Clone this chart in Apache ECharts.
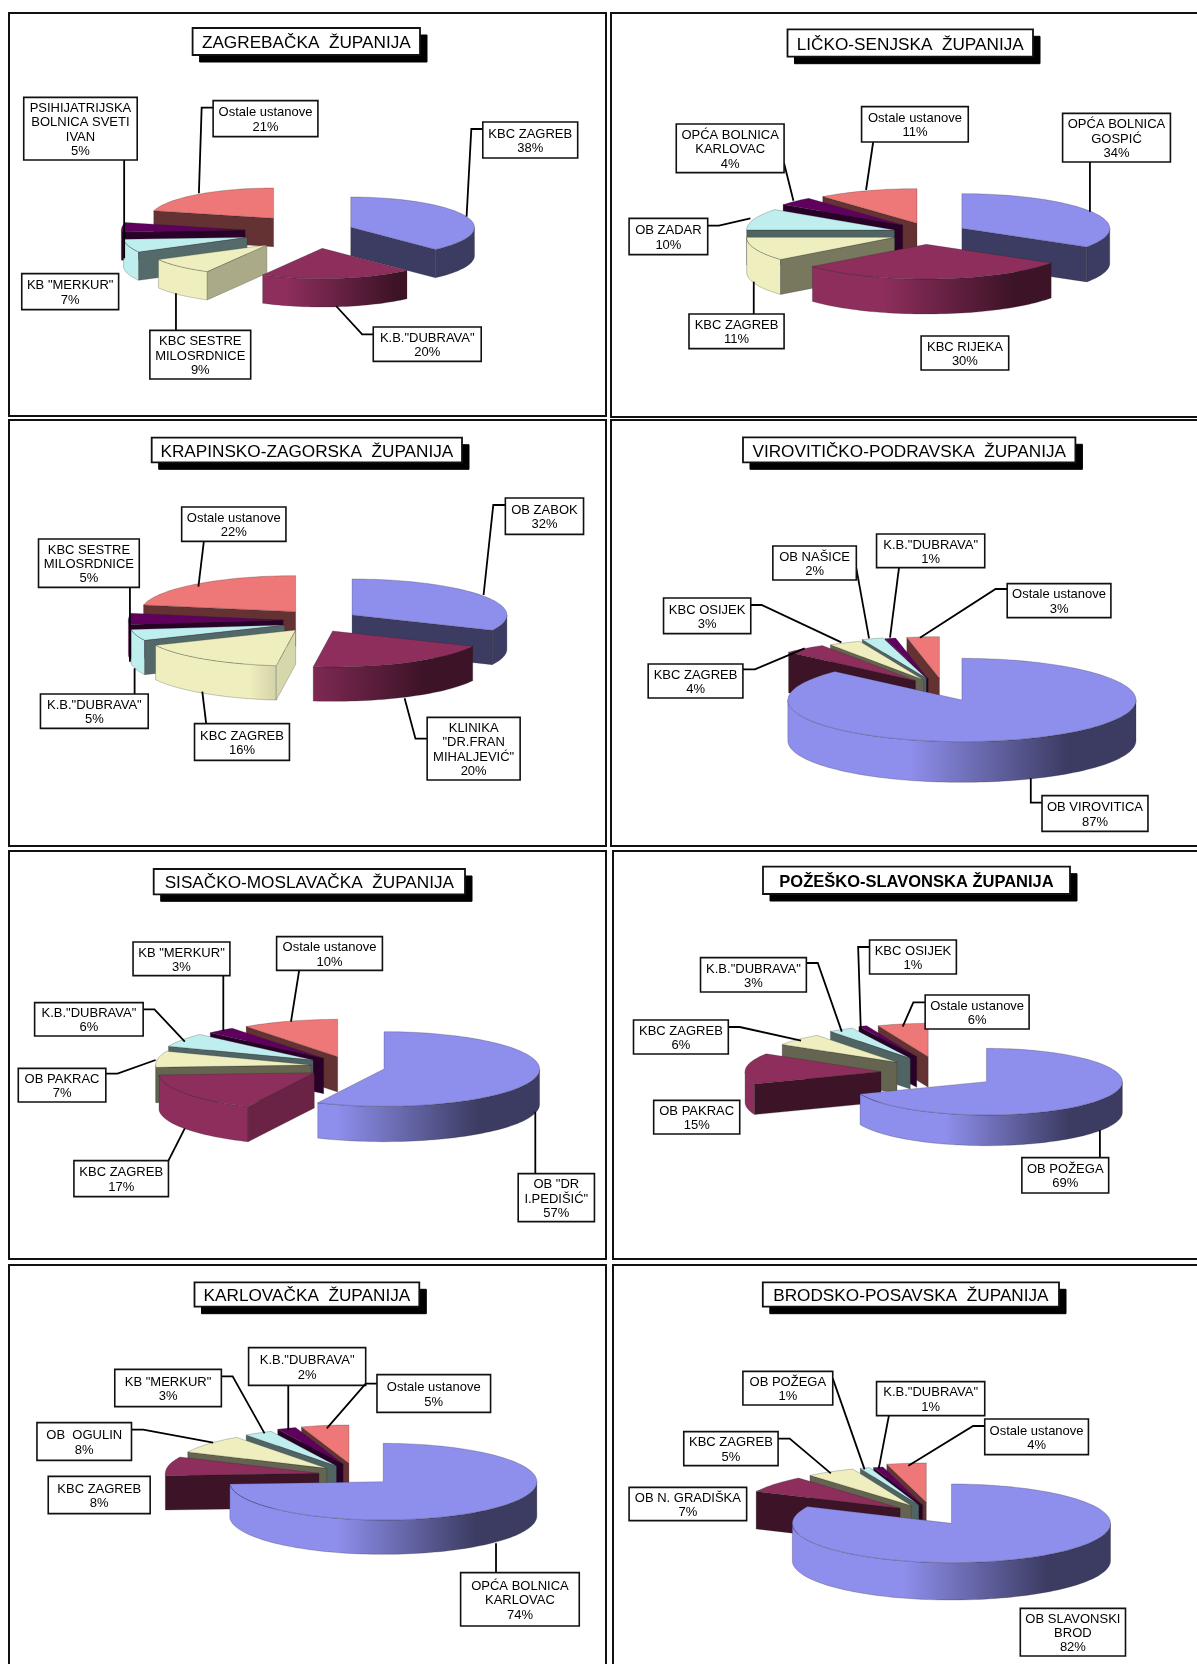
<!DOCTYPE html>
<html>
<head>
<meta charset="utf-8">
<style>html,body{margin:0;padding:0;background:#fff}#c{width:1197px;height:1664px}</style>
<script src="https://cdn.jsdelivr.net/npm/echarts@6/dist/echarts.min.js"></script>
</head>
<body>
<div id="c"></div>
<script>
// ---------- values ----------
const sliceColors = ['#8E8EEC', '#8E2E5C', '#EEEEBE', '#BEEEEE', '#5F005F', '#EE7777'];
const OTHER = 'Ostale ustanove';

const titles = ['ZAGREBAČKA  ŽUPANIJA', 'LIČKO-SENJSKA  ŽUPANIJA', 'KRAPINSKO-ZAGORSKA  ŽUPANIJA',
  'VIROVITIČKO-PODRAVSKA  ŽUPANIJA', 'SISAČKO-MOSLAVAČKA  ŽUPANIJA', 'POŽEŠKO-SLAVONSKA ŽUPANIJA',
  'KARLOVAČKA  ŽUPANIJA', 'BRODSKO-POSAVSKA  ŽUPANIJA'];

const zagrebNames = ['KBC ZAGREB', 'K.B."DUBRAVA"', 'KBC SESTRE\nMILOSRDNICE', 'KB "MERKUR"', 'PSIHIJATRIJSKA\nBOLNICA SVETI\nIVAN', OTHER];
const zagrebValues = [38, 20, 9, 7, 5, 21];
const likaNames = ['OPĆA BOLNICA\nGOSPIĆ', 'KBC RIJEKA', 'KBC ZAGREB', 'OB ZADAR', 'OPĆA BOLNICA\nKARLOVAC', OTHER];
const likaValues = [34, 30, 11, 10, 4, 11];
const krapinaNames = ['OB ZABOK', 'KLINIKA\n"DR.FRAN\nMIHALJEVIĆ"', 'KBC ZAGREB', 'K.B."DUBRAVA"', 'KBC SESTRE\nMILOSRDNICE', OTHER];
const krapinaValues = [32, 20, 16, 5, 5, 22];
const viroviticaNames = ['OB VIROVITICA', 'KBC ZAGREB', 'KBC OSIJEK', 'OB NAŠICE', 'K.B."DUBRAVA"', OTHER];
const viroviticaValues = [87, 4, 3, 2, 1, 3];
const sisakNames = ['OB "DR\nI.PEDIŠIĆ"', 'KBC ZAGREB', 'OB PAKRAC', 'K.B."DUBRAVA"', 'KB "MERKUR"', OTHER];
const sisakValues = [57, 17, 7, 6, 3, 10];
const pozegaNames = ['OB POŽEGA', 'OB PAKRAC', 'KBC ZAGREB', 'K.B."DUBRAVA"', 'KBC OSIJEK', OTHER];
const pozegaValues = [69, 15, 6, 3, 1, 6];
const karlovacNames = ['OPĆA BOLNICA\nKARLOVAC', 'KBC ZAGREB', 'OB  OGULIN', 'KB "MERKUR"', 'K.B."DUBRAVA"', OTHER];
const karlovacValues = [74, 8, 8, 3, 2, 5];
const brodNames = ['OB SLAVONSKI\nBROD', 'OB N. GRADIŠKA', 'KBC ZAGREB', 'OB POŽEGA', 'K.B."DUBRAVA"', OTHER];
const brodValues = [82, 7, 5, 1, 1, 4];

// ---------- layout (each panel has its own hidden axes: x 0..1568, y 0..3*height) ----------
const layouts = [
 { crop:[0,0,620,430], frame:[9,13,606,416], titleBox:[192.6,28,420,55],
   rx:313, ry:91, h:85, blueFirst:true,
   apex:[[887,682],[815,745],[675,735],[625,712],[620,690],[692,655]],
   boxes:[[1221,366,1461,474],[944,981,1217,1084],[379,991,634,1137],[55,821,300,929],[60,292,347,480],[539,302,804,410]],
   leaders:[[[1221,387],[1192,387],[1180,650]],[[944,1003],[916,1003],[850,918]],[[445,991],[445,880]],[],[[314,480],[314,775]],[[539,323],[510,323],[503,580]]] },
 { crop:[610,10,587,410], frame:[611,13,1215,417], titleBox:[787.5,29.3,1033,56.7],
   rx:395, ry:104, h:105, blueFirst:true,
   apex:[[940,655],[845,703],[760,682],[760,660],[782,645],[820,640]],
   boxes:[[1209,310,1497,456],[831,978,1065,1080],[211,912,465,1016],[51,625,261,734],[177,342,465,488],[672,290,957,396]],
   leaders:[[[1282,456],[1282,605]],[],[[384,912],[384,815]],[[261,647],[291,647],[375,625]],[[465,460],[490,572]],[[703,396],[684,540]]] },
 { crop:[0,415,610,435], frame:[9,420,606,846], titleBox:[151.7,437.7,462,462.3],
   rx:398, ry:108, h:103, blueFirst:true,
   apex:[[905,600],[855,648],[760,645],[732,630],[728,615],[760,590]],
   boxes:[[1299,249,1500,358],[1098,907,1337,1095],[500,926,744,1036],[104,837,381,940],[99,372,358,517],[467,276,735,379]],
   leaders:[[[1299,270],[1268,270],[1243,540]],[[1098,971],[1068,971],[1040,850]],[[530,926],[520,830]],[[346,837],[346,760]],[[334,517],[334,740]],[[524,379],[510,515]]] },
 { crop:[610,415,587,435], frame:[611,420,1215,846], titleBox:[743,437.3,1075.4,462.3],
   rx:465, ry:125, h:122, blueFirst:false,
   apex:[[940,855],[816,797],[838,795],[845,790],[850,792],[880,790]],
   boxes:[[1154,1142,1437,1249],[102,747,355,849],[143,549,376,656],[435,393,658,495],[712,357,1001,458],[1061,506,1338,608]],
   leaders:[[[1154,1163],[1124,1163],[1124,1090]],[[355,763],[387,763],[520,700]],[[376,570],[405,570],[618,682]],[[658,460],[692,670]],[[772,458],[748,668]],[[1061,522],[1030,522],[828,668]]] },
 { crop:[0,845,610,420], frame:[9,851,606,1259], titleBox:[153.7,869,465,894.3],
   rx:400, ry:112, h:106, blueFirst:false,
   apex:[[987,672],[808,683],[800,660],[805,645],[832,640],[868,635]],
   boxes:[[1332,986,1528,1130],[190,947,433,1055],[47,670,272,771],[89,473,368,573],[342,291,591,392],[711,275,983,376]],
   leaders:[[[1376,986],[1376,800]],[[433,947],[475,850]],[[272,686],[302,686],[400,645]],[[368,493],[397,493],[475,590]],[[574,392],[574,558]],[[769,376],[748,530]]] },
 { crop:[600,800,597,480], frame:[613,851,1215,1259], titleBox:[763,866.7,1070,894],
   rx:357, ry:100, h:92, blueFirst:false,
   apex:[[1015,845],[738,815],[780,787],[815,775],[832,770],[862,770]],
   boxes:[[1108,1073,1336,1179],[141,901,367,1002],[88,660,337,762],[264,473,542,576],[708,420,936,522],[854,585,1127,687]],
   leaders:[[[1313,1073],[1313,990]],[],[[337,681],[367,681],[528,722]],[[542,489],[572,489],[635,695]],[[708,441],[678,441],[685,690]],[[854,607],[823,607],[795,680]]] },
 { crop:[0,1260,610,404], frame:[9,1265,606,1690], titleBox:[194.5,1282.3,419.3,1306.7],
   rx:395, ry:115, h:103, blueFirst:false,
   apex:[[985,665],[820,640],[840,625],[865,618],[882,612],[897,610]],
   boxes:[[1184,938,1489,1098],[124,649,386,761],[95,488,338,601],[295,328,569,440],[639,263,940,376],[969,344,1261,457]],
   leaders:[[[1275,938],[1275,850]],[],[[338,509],[368,509],[548,548]],[[569,349],[598,349],[680,520]],[[741,376],[741,510]],[[969,371],[940,371],[840,505]]] },
 { crop:[610,1260,587,404], frame:[613,1265,1215,1690], titleBox:[762.8,1282.3,1059,1306.7],
   rx:425, ry:118, h:112, blueFirst:false,
   apex:[[912,790],[775,745],[805,737],[825,735],[835,735],[845,727]],
   boxes:[[1096,1045,1377,1188],[51,682,365,782],[197,515,449,617],[355,334,595,435],[712,365,1001,467],[1001,477,1278,584]],
   leaders:[[],[],[[449,536],[480,536],[590,640]],[[595,355],[680,628]],[[745,467],[718,625]],[[1001,498],[970,498],[797,617]]] }
];
const panelNames = [zagrebNames, likaNames, krapinaNames, viroviticaNames, sisakNames, pozegaNames, karlovacNames, brodNames];
const panelValues = [zagrebValues, likaValues, krapinaValues, viroviticaValues, sisakValues, pozegaValues, karlovacValues, brodValues];

// ---------- drawing ----------
const FONT = '"Liberation Sans", Arial, sans-serif';
const RAD = Math.PI / 180;

function shade(hex, k) {
  const n = parseInt(hex.slice(1), 16);
  const c = s => Math.round(((n >> s) & 255) * k);
  return 'rgb(' + c(16) + ',' + c(8) + ',' + c(0) + ')';
}

function sliceRenderer(L) {
  return function (params, api) {
    const ax = api.value(0), ay = api.value(1), pct = api.value(2), start = api.value(3), colorIdx = api.value(4);
    const color = sliceColors[colorIdx];
    const end = start + pct * 3.6;
    const rim = (deg, dy) => api.coord([ax + Math.sin(deg * RAD) * L.rx, ay - Math.cos(deg * RAD) * L.ry + (dy || 0)]);
    const A = api.coord([ax, ay]), B = api.coord([ax, ay + L.h]);
    const line = { stroke: 'rgba(30,30,30,0.4)', lineWidth: 0.6 };
    const children = [];

    // curved outer wall (front half of the ellipse only)
    const a0 = Math.max(start, 90), a1 = Math.min(end, 270);
    if (a1 > a0) {
      const pts = [];
      for (let d = a0; d < a1; d += 2) pts.push(rim(d));
      pts.push(rim(a1));
      for (let d = a1; d > a0; d -= 2) pts.push(rim(d, L.h));
      pts.push(rim(a0, L.h));
      const xl = api.coord([ax - L.rx, ay])[0], xr = api.coord([ax + L.rx, ay])[0];
      children.push({
        type: 'polygon', shape: { points: pts },
        style: Object.assign({
          fill: new echarts.graphic.LinearGradient(xl, 0, xr, 0, [
            { offset: 0, color: color }, { offset: 0.35, color: color },
            { offset: 0.8, color: shade(color, 0.42) }, { offset: 1, color: shade(color, 0.42) }
          ], true)
        }, line)
      });
    }
    // flat cut walls facing the viewer
    const wall = (deg, nx) => {
      const k = 0.42 + 0.5 * Math.pow(Math.max(0, nx), 4);
      children.push({
        type: 'polygon',
        shape: { points: [A, rim(deg), rim(deg, L.h), B] },
        style: Object.assign({ fill: shade(color, k) }, line)
      });
    };
    if (Math.sin(start * RAD) < -1e-6) wall(start, -Math.cos(start * RAD));
    if (Math.sin(end * RAD) > 1e-6) wall(end, Math.cos(end * RAD));
    // top face
    const top = [A];
    for (let d = start; d < end; d += 2) top.push(rim(d));
    top.push(rim(end));
    children.push({ type: 'polygon', shape: { points: top }, style: Object.assign({ fill: color }, line) });
    return { type: 'group', children: children };
  };
}

function labelRenderer(L, names) {
  return function (params, api) {
    const i = params.dataIndex;
    const b = L.boxes[i];
    const p0 = api.coord([b[0], b[1]]), p1 = api.coord([b[2], b[3]]);
    const children = [];
    if (L.leaders[i].length) {
      children.push({
        type: 'polyline',
        shape: { points: L.leaders[i].map(p => api.coord(p)) },
        style: { stroke: '#000', lineWidth: 1.8, fill: 'none' }
      });
    }
    children.push({
      type: 'rect',
      shape: { x: p0[0], y: p0[1], width: p1[0] - p0[0], height: p1[1] - p0[1] },
      style: { fill: '#fff', stroke: '#111', lineWidth: 1.6 }
    });
    children.push({
      type: 'text',
      style: {
        text: names[i] + '\n' + api.value(0) + '%',
        x: (p0[0] + p1[0]) / 2, y: (p0[1] + p1[1]) / 2 + 1.3,
        align: 'center', verticalAlign: 'middle',
        fill: '#000', font: '13px ' + FONT, lineHeight: 14.3
      }
    });
    return { type: 'group', children: children };
  };
}

const option = {
  backgroundColor: '#fff', animation: false, tooltip: { show: false },
  title: [], grid: [], xAxis: [], yAxis: [], series: [], graphic: []
};

layouts.forEach((L, p) => {
  const values = panelValues[p], names = panelNames[p];
  const c = L.crop, f = L.frame, t = L.titleBox;

  option.graphic.push({
    type: 'rect', z: 0, silent: true,
    shape: { x: f[0], y: f[1], width: f[2] - f[0], height: f[3] - f[1] },
    style: { fill: 'none', stroke: '#111', lineWidth: 2 }
  });

  const bold = titles[p].indexOf('POŽEŠKO') === 0;
  option.title.push({
    text: titles[p], textAlign: 'center', textVerticalAlign: 'middle',
    left: (t[0] + t[2]) / 2, top: (t[1] + t[3]) / 2 + 2,
    padding: 0, z: 20,
    textStyle: { color: '#000', fontFamily: FONT, fontSize: bold ? 16.5 : 17.2, fontWeight: bold ? 'bold' : 'normal' }
  });

  option.grid.push({ left: c[0], top: c[1], width: c[2], height: c[3], show: false });
  option.xAxis.push({ type: 'value', gridIndex: p, min: 0, max: 1568, show: false });
  option.yAxis.push({ type: 'value', gridIndex: p, min: 0, max: c[3] * 3, inverse: true, show: false });

  let cum = 0;
  const rows = values.map((v, i) => {
    const row = [L.apex[i][0], L.apex[i][1], v, cum * 3.6, i];
    cum += v;
    return { name: names[i].replace(/\n/g, ' '), value: row };
  });
  const rest = rows.slice(1).reverse();
  const drawOrder = L.blueFirst ? [rows[0]].concat(rest) : rest.concat([rows[0]]);

  option.series.push({
    name: titles[p], type: 'custom', coordinateSystem: 'cartesian2d',
    xAxisIndex: p, yAxisIndex: p, clip: false, silent: true, z: 5,
    dimensions: ['apexX', 'apexY', 'share', 'start', 'slice'],
    encode: { x: 0, y: 1 },
    renderItem: sliceRenderer(L), data: drawOrder
  });
  option.series.push({
    name: titles[p] + ' labels', type: 'custom', coordinateSystem: 'cartesian2d',
    xAxisIndex: p, yAxisIndex: p, clip: false, silent: true, z: 6,
    encode: { x: -1, y: -1 },
    renderItem: labelRenderer(L, names),
    data: values.map((v, i) => ({ name: names[i].replace(/\n/g, ' '), value: [v] }))
  });

  // title box and its hard black shadow, drawn under the title text
  option.graphic.push({
    type: 'rect', z: 10, silent: true,
    shape: { x: t[0] + 7, y: t[1] + 7, width: t[2] - t[0], height: t[3] - t[1] },
    style: { fill: '#000', stroke: '#000', lineWidth: 1 }
  });
  option.graphic.push({
    type: 'rect', z: 11, silent: true,
    shape: { x: t[0], y: t[1], width: t[2] - t[0], height: t[3] - t[1] },
    style: { fill: '#fff', stroke: '#111', lineWidth: 1.8 }
  });
});

const chart = echarts.init(document.getElementById('c'), null, { renderer: 'canvas', width: 1197, height: 1664 });
chart.setOption(option);
</script>
</body>
</html>
